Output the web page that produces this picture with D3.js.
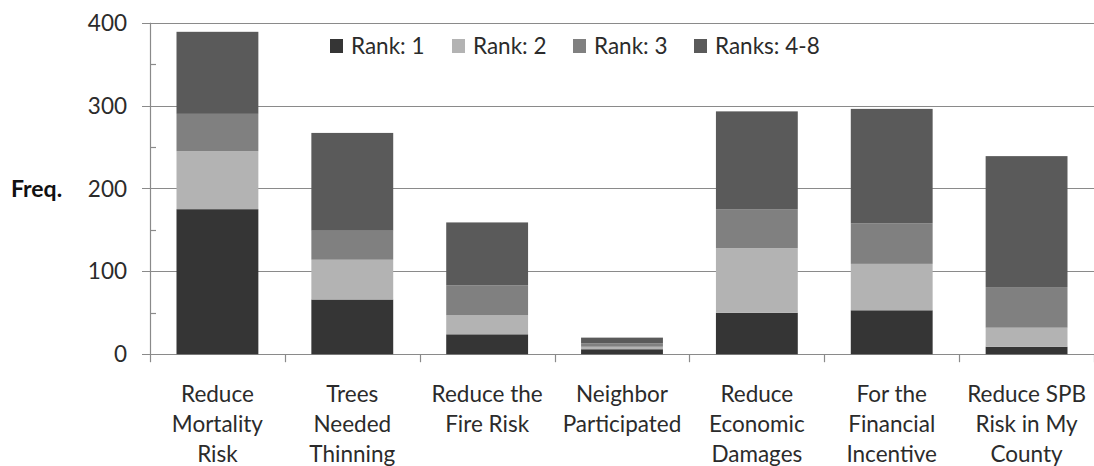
<!DOCTYPE html>
<html>
<head>
<meta charset="utf-8">
<script src="https://cdn.jsdelivr.net/npm/d3@7"></script>
<style>
  html, body { margin: 0; padding: 0; background: #fff; }
  svg { display: block; }
  text { font-family: Lato, "Open Sans", sans-serif; fill: #2b2b2b; }
</style>
</head>
<body>
<svg id="chart" width="1094" height="466"></svg>
<script>
// Reasons for participating, stacked by the rank respondents gave them
const categories = [
  ["Reduce", "Mortality", "Risk"],
  ["Trees", "Needed", "Thinning"],
  ["Reduce the", "Fire Risk"],
  ["Neighbor", "Participated"],
  ["Reduce", "Economic", "Damages"],
  ["For the", "Financial", "Incentive"],
  ["Reduce SPB", "Risk in My", "County"]
];
const seriesNames = ["Rank: 1", "Rank: 2", "Rank: 3", "Ranks: 4-8"];
const rank1   = [175, 66, 24, 6, 50, 53, 9];
const rank2   = [70, 48, 23, 3, 78, 56, 23];
const rank3   = [45, 35, 36, 4, 47, 49, 49];
const rank4to8 = [99, 118, 76, 7, 118, 138, 158];
const yTicks = [0, 100, 200, 300, 400];
const yMinorTicks = [50, 150, 250, 350];
const colors = ["#353535", "#b3b3b3", "#808080", "#5a5a5a"];

const rows = categories.map((c, i) => ({
  key: i,
  "Rank: 1": rank1[i],
  "Rank: 2": rank2[i],
  "Rank: 3": rank3[i],
  "Ranks: 4-8": rank4to8[i]
}));

const svg = d3.select("#chart");
const plotLeft = 150, plotRight = 1094, plotTop = 22.7, plotBottom = 354.2;
const fontSize = 22.5;

const x = d3.scaleBand()
  .domain(rows.map(d => d.key))
  .range([plotLeft, plotRight])
  .paddingInner(0.393)
  .paddingOuter(0.1965);

const y = d3.scaleLinear().domain([0, 400]).range([plotBottom, plotTop]);

const color = d3.scaleOrdinal().domain(seriesNames).range(colors);

const axisColor = "#8a8a8a";

// horizontal gridlines (major ticks extend left of the axis)
svg.append("g")
  .selectAll("line")
  .data(yTicks)
  .join("line")
  .attr("x1", plotLeft - 8)
  .attr("x2", plotRight)
  .attr("y1", d => Math.round(y(d)) + 0.5)
  .attr("y2", d => Math.round(y(d)) + 0.5)
  .attr("stroke", axisColor)
  .attr("stroke-width", 1.2);

// minor ticks on the inside of the value axis
svg.append("g")
  .selectAll("line")
  .data(yMinorTicks)
  .join("line")
  .attr("x1", plotLeft)
  .attr("x2", plotLeft + 6)
  .attr("y1", d => Math.round(y(d)) + 0.5)
  .attr("y2", d => Math.round(y(d)) + 0.5)
  .attr("stroke", axisColor)
  .attr("stroke-width", 1.2);

// value axis line
svg.append("line")
  .attr("x1", plotLeft + 0.5).attr("x2", plotLeft + 0.5)
  .attr("y1", y(400)).attr("y2", y(0))
  .attr("stroke", axisColor)
  .attr("stroke-width", 1.2);

// y tick labels
svg.append("g")
  .selectAll("text")
  .data(yTicks)
  .join("text")
  .attr("x", 127)
  .attr("y", d => y(d))
  .attr("dy", "0.36em")
  .attr("text-anchor", "end")
  .attr("font-size", fontSize)
  .text(d => d);

// axis title
svg.append("text")
  .attr("x", 11)
  .attr("y", y(200))
  .attr("dy", "0.36em")
  .attr("font-size", 23)
  .attr("font-weight", "bold")
  .style("fill", "#111")
  .text("Freq.");

// category tick marks at band edges
const step = x.step();
const edges = d3.range(categories.length + 1).map(i => plotLeft + i * step);
svg.append("g")
  .selectAll("line")
  .data(edges)
  .join("line")
  .attr("x1", d => Math.round(d) + 0.5)
  .attr("x2", d => Math.round(d) + 0.5)
  .attr("y1", y(0))
  .attr("y2", y(0) + 8)
  .attr("stroke", axisColor)
  .attr("stroke-width", 1.2);

// stacked bars
const stack = d3.stack().keys(seriesNames);
const layers = stack(rows);

svg.append("g")
  .selectAll("g")
  .data(layers)
  .join("g")
  .attr("fill", d => color(d.key))
  .selectAll("rect")
  .data(d => d)
  .join("rect")
  .attr("x", d => x(d.data.key))
  .attr("width", x.bandwidth())
  .attr("y", d => y(d[1]))
  .attr("height", d => y(d[0]) - y(d[1]));

// category labels, one line per entry
const labels = svg.append("g")
  .selectAll("text")
  .data(categories)
  .join("text")
  .attr("text-anchor", "middle")
  .attr("font-size", fontSize)
  .attr("x", (d, i) => x(i) + x.bandwidth() / 2);
labels.selectAll("tspan")
  .data(d => d)
  .join("tspan")
  .attr("x", function () { return this.parentNode.getAttribute("x"); })
  .attr("y", (d, j) => 402 + j * 30)
  .text(d => d);

// legend
const legendX = [330, 452, 573, 694];
const legend = svg.append("g")
  .selectAll("g")
  .data(seriesNames)
  .join("g")
  .attr("transform", (d, i) => `translate(${legendX[i]},39)`);
legend.append("rect")
  .attr("width", 13)
  .attr("height", 14)
  .attr("fill", d => color(d));
legend.append("text")
  .attr("x", 21)
  .attr("y", 15)
  .attr("font-size", fontSize)
  .text(d => d);
</script>
</body>
</html>
